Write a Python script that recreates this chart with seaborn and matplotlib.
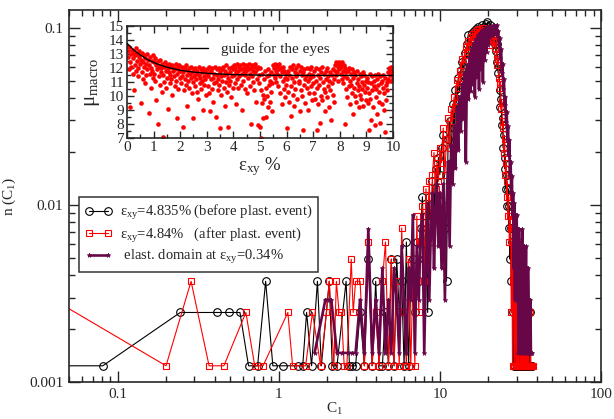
import numpy as np
import matplotlib
matplotlib.use("Agg")
import matplotlib.pyplot as plt
import seaborn as sns
from matplotlib.ticker import LogLocator, NullFormatter, MultipleLocator

# ---------------- main panel: n(C1) ----------------
N_BLACK = 810
N_RED = 810
N_PURPLE = 685

# sparse part (C1 < 3), per series
black_low_c = [0.03, 0.081, 0.245, 0.414, 0.49, 0.575, 0.65, 0.74, 0.83, 0.92, 1.07, 1.31,
               1.41, 1.49, 1.6, 1.74, 1.84, 2.06, 2.15, 2.3, 2.62, 2.75, 2.86]
black_low_n = [1, 1, 2, 2, 2, 2, 1, 1, 3, 1, 1, 1, 1, 2, 1, 3, 1, 3, 1, 1, 3, 1, 1]
red_low_c = [0.015, 0.2, 0.286, 0.37, 0.457, 0.626, 0.71, 0.8, 1.14, 1.22, 1.47, 1.62,
             1.82, 1.98, 2.06, 2.2, 2.28, 2.37, 2.45, 2.55, 2.65, 2.82, 2.9]
red_low_n = [4, 1, 3, 1, 1, 2, 1, 1, 2, 1, 1, 2, 1, 2, 3, 1, 3, 2, 2, 1, 1, 4, 2]
purple_low_c = [1.67, 1.95, 2.05, 2.12, 2.3, 2.48, 2.7, 2.85]
purple_low_n = [1, 2, 2, 2, 1, 1, 1, 1]

# dense part, common bins (counts of 0 are not drawn)
c1_bins = [
    3.0, 3.2, 3.4, 3.6, 3.8, 4.0, 4.2, 4.4, 4.6, 4.8, 5.0, 5.2,
    5.4, 5.6, 5.8, 6.0, 6.2, 6.4, 6.6, 6.8, 7.0, 7.2, 7.4, 7.6,
    7.8, 8.0, 8.2, 8.4, 8.6, 8.8, 9.0, 9.2, 9.4, 9.6, 9.8, 10.0,
    10.25, 10.5, 10.75, 11.0, 11.25, 11.5, 11.75, 12.0,
    12.25, 12.5, 12.75, 13.0, 13.25, 13.5, 13.75, 14.0,
    14.25, 14.5, 14.75, 15.0, 15.25, 15.5, 15.75, 16.0,
    16.25, 16.5, 16.75, 17.0, 17.25, 17.5, 17.75, 18.0,
    18.25, 18.5, 18.75, 19.0, 19.25, 19.5, 19.75, 20.0,
    20.25, 20.5, 20.75, 21.0, 21.25, 21.5, 21.75, 22.0,
    22.25, 22.5, 22.75, 23.0, 23.25, 23.5, 23.75, 24.0,
    24.25, 24.5, 24.75, 25.0, 25.25, 25.5, 25.75, 26.0,
    26.25, 26.5, 26.75, 27.0, 27.25, 27.5, 27.75, 28.0,
    28.25, 28.5, 28.75, 29.0, 29.25, 29.5, 29.75, 30.0,
    30.25, 30.5, 30.75, 31.0, 31.25, 31.5, 31.75, 32.0,
    32.25, 32.5, 32.75, 33.0, 33.25, 33.5, 33.75, 34.0,
    34.25, 34.5, 34.75, 35.0, 35.25, 35.5, 35.75, 36.0,
    36.25, 36.5, 36.75, 37.0, 37.25, 37.5, 37.75, 38.0,
]
black_counts = [
    1, 2, 1, 4, 1, 3, 1, 1, 2, 1, 4, 1,
    4, 2, 3, 1, 5, 1, 3, 4, 2, 5, 3, 6,
    9, 4, 7, 2, 9, 6, 11, 7, 13, 9, 15, 12,
    17, 20, 6, 3, 19, 24, 14, 30,
    22, 36, 31, 42, 35, 47, 52, 44,
    58, 53, 66, 74, 61, 70, 76, 69,
    78, 72, 80, 74, 82, 76, 70, 80,
    84, 75, 82, 78, 85, 80, 87, 82,
    77, 84, 79, 73, 78, 71, 75, 66,
    60, 66, 52, 45, 49, 36, 29, 32,
    23, 25, 17, 20, 13, 15, 10, 12,
    8, 10, 6, 8, 4, 6, 3, 5,
    2, 6, 1, 4, 1, 3, 5, 1,
    4, 2, 1, 3, 1, 4, 1, 2,
    1, 3, 1, 2, 1, 2, 1, 1,
    2, 1, 2, 1, 1, 2, 1, 1,
    2, 1, 1, 1, 0, 1, 0, 0,
]
red_counts = [
    3, 3, 1, 5, 1, 2, 1, 3, 5, 1, 4, 1,
    3, 1, 6, 2, 1, 4, 1, 3, 1, 7, 2, 5,
    8, 3, 10, 6, 11, 5, 12, 16, 10, 14, 11, 17,
    14, 22, 12, 19, 25, 17, 28, 24,
    33, 29, 41, 37, 46, 42, 54, 50,
    57, 63, 59, 68, 64, 72, 67, 75,
    70, 77, 73, 79, 74, 80, 76, 71,
    78, 81, 74, 79, 72, 77, 69, 80,
    65, 78, 71, 81, 74, 68, 73, 62,
    67, 57, 50, 54, 42, 37, 40, 28,
    31, 22, 24, 16, 19, 12, 14, 9,
    11, 7, 9, 5, 7, 6, 2, 5,
    1, 3, 6, 1, 2, 4, 1, 3,
    1, 5, 1, 2, 3, 1, 2, 1,
    4, 1, 2, 1, 1, 3, 1, 2,
    1, 1, 2, 1, 2, 1, 1, 1,
    1, 2, 1, 0, 1, 1, 1, 0,
]
purple_counts = [
    1, 2, 1, 5, 1, 2, 1, 3, 1, 2, 1, 3,
    2, 1, 4, 2, 1, 3, 2, 6, 1, 4, 2, 5,
    6, 1, 3, 7, 2, 5, 8, 3, 6, 9, 4, 8,
    3, 9, 2, 7, 12, 4, 15, 9,
    19, 11, 24, 14, 28, 18, 33, 21,
    38, 12, 42, 27, 47, 30, 52, 33,
    56, 28, 59, 36, 62, 31, 64, 40,
    66, 34, 67, 45, 68, 50, 69, 55,
    70, 61, 69, 62, 70, 64, 71, 63,
    70, 71, 62, 66, 55, 60, 46, 52,
    38, 43, 31, 35, 25, 28, 20, 23,
    16, 19, 13, 16, 10, 12, 8, 10,
    6, 8, 3, 7, 2, 6, 4, 6,
    2, 5, 1, 5, 3, 4, 1, 4,
    2, 5, 1, 3, 4, 1, 3, 2,
    4, 1, 3, 1, 3, 2, 1, 2,
    1, 2, 1, 1, 1, 0, 0, 0,
]

# ---------------- inset: mu_macro vs strain ----------------
eps_inset = [
    0.01, 0.03, 0.05, 0.07, 0.09, 0.11, 0.13, 0.15, 0.17, 0.19, 0.21, 0.23, 0.25, 0.27, 0.29, 0.31, 0.33, 0.35, 0.37, 0.39, 0.41, 0.43, 0.45, 0.47, 0.49,
    0.51, 0.53, 0.55, 0.57, 0.59, 0.61, 0.63, 0.65, 0.67, 0.69, 0.71, 0.73, 0.75, 0.77, 0.79, 0.81, 0.83, 0.85, 0.87, 0.89, 0.91, 0.93, 0.95, 0.97, 0.99,
    1.01, 1.03, 1.05, 1.07, 1.09, 1.11, 1.13, 1.15, 1.17, 1.19, 1.21, 1.23, 1.25, 1.27, 1.29, 1.31, 1.33, 1.35, 1.37, 1.39, 1.41, 1.43, 1.45, 1.47, 1.49,
    1.51, 1.53, 1.55, 1.57, 1.59, 1.61, 1.63, 1.65, 1.67, 1.69, 1.71, 1.73, 1.75, 1.77, 1.79, 1.81, 1.83, 1.85, 1.87, 1.89, 1.91, 1.93, 1.95, 1.97, 1.99,
    2.01, 2.03, 2.05, 2.07, 2.09, 2.11, 2.13, 2.15, 2.17, 2.19, 2.21, 2.23, 2.25, 2.27, 2.29, 2.31, 2.33, 2.35, 2.37, 2.39, 2.41, 2.43, 2.45, 2.47, 2.49,
    2.51, 2.53, 2.55, 2.57, 2.59, 2.61, 2.63, 2.65, 2.67, 2.69, 2.71, 2.73, 2.75, 2.77, 2.79, 2.81, 2.83, 2.85, 2.87, 2.89, 2.91, 2.93, 2.95, 2.97, 2.99,
    3.01, 3.03, 3.05, 3.07, 3.09, 3.11, 3.13, 3.15, 3.17, 3.19, 3.21, 3.23, 3.25, 3.27, 3.29, 3.31, 3.33, 3.35, 3.37, 3.39, 3.41, 3.43, 3.45, 3.47, 3.49,
    3.51, 3.53, 3.55, 3.57, 3.59, 3.61, 3.63, 3.65, 3.67, 3.69, 3.71, 3.73, 3.75, 3.77, 3.79, 3.81, 3.83, 3.85, 3.87, 3.89, 3.91, 3.93, 3.95, 3.97, 3.99,
    4.01, 4.03, 4.05, 4.07, 4.09, 4.11, 4.13, 4.15, 4.17, 4.19, 4.21, 4.23, 4.25, 4.27, 4.29, 4.31, 4.33, 4.35, 4.37, 4.39, 4.41, 4.43, 4.45, 4.47, 4.49,
    4.51, 4.53, 4.55, 4.57, 4.59, 4.61, 4.63, 4.65, 4.67, 4.69, 4.71, 4.73, 4.75, 4.77, 4.79, 4.81, 4.83, 4.85, 4.87, 4.89, 4.91, 4.93, 4.95, 4.97, 4.99,
    5.01, 5.03, 5.05, 5.07, 5.09, 5.11, 5.13, 5.15, 5.17, 5.19, 5.21, 5.23, 5.25, 5.27, 5.29, 5.31, 5.33, 5.35, 5.37, 5.39, 5.41, 5.43, 5.45, 5.47, 5.49,
    5.51, 5.53, 5.55, 5.57, 5.59, 5.61, 5.63, 5.65, 5.67, 5.69, 5.71, 5.73, 5.75, 5.77, 5.79, 5.81, 5.83, 5.85, 5.87, 5.89, 5.91, 5.93, 5.95, 5.97, 5.99,
    6.01, 6.03, 6.05, 6.07, 6.09, 6.11, 6.13, 6.15, 6.17, 6.19, 6.21, 6.23, 6.25, 6.27, 6.29, 6.31, 6.33, 6.35, 6.37, 6.39, 6.41, 6.43, 6.45, 6.47, 6.49,
    6.51, 6.53, 6.55, 6.57, 6.59, 6.61, 6.63, 6.65, 6.67, 6.69, 6.71, 6.73, 6.75, 6.77, 6.79, 6.81, 6.83, 6.85, 6.87, 6.89, 6.91, 6.93, 6.95, 6.97, 6.99,
    7.01, 7.03, 7.05, 7.07, 7.09, 7.11, 7.13, 7.15, 7.17, 7.19, 7.21, 7.23, 7.25, 7.27, 7.29, 7.31, 7.33, 7.35, 7.37, 7.39, 7.41, 7.43, 7.45, 7.47, 7.49,
    7.51, 7.53, 7.55, 7.57, 7.59, 7.61, 7.63, 7.65, 7.67, 7.69, 7.71, 7.73, 7.75, 7.77, 7.79, 7.81, 7.83, 7.85, 7.87, 7.89, 7.91, 7.93, 7.95, 7.97, 7.99,
    8.01, 8.03, 8.05, 8.07, 8.09, 8.11, 8.13, 8.15, 8.17, 8.19, 8.21, 8.23, 8.25, 8.27, 8.29, 8.31, 8.33, 8.35, 8.37, 8.39, 8.41, 8.43, 8.45, 8.47, 8.49,
    8.51, 8.53, 8.55, 8.57, 8.59, 8.61, 8.63, 8.65, 8.67, 8.69, 8.71, 8.73, 8.75, 8.77, 8.79, 8.81, 8.83, 8.85, 8.87, 8.89, 8.91, 8.93, 8.95, 8.97, 8.99,
    9.01, 9.03, 9.05, 9.07, 9.09, 9.11, 9.13, 9.15, 9.17, 9.19, 9.21, 9.23, 9.25, 9.27, 9.29, 9.31, 9.33, 9.35, 9.37, 9.39, 9.41, 9.43, 9.45, 9.47, 9.49,
    9.51, 9.53, 9.55, 9.57, 9.59, 9.61, 9.63, 9.65, 9.67, 9.69, 9.71, 9.73, 9.75, 9.77, 9.79, 9.81, 9.83, 9.85, 9.87, 9.89, 9.91, 9.93, 9.95, 9.97, 9.99,
]
mu_inset = [
    13.6, 12.8, 13.2, 11.9, 13.5, 12.4, 9.2, 13.0, 12.1, 13.3, 11.6, 12.7, 13.1, 10.4, 12.9, 12.2, 13.4, 11.8, 12.5, 13.0, 12.0, 11.4, 12.8, 13.2, 12.3,
    9.5, 12.6, 11.7, 13.1, 12.4, 11.2, 12.9, 12.1, 10.9, 12.7, 12.3, 11.5, 13.0, 11.9, 12.6, 8.8, 12.2, 11.6, 12.8, 12.0, 10.6, 12.5, 11.8, 12.9, 11.3,
    12.4, 11.6, 12.7, 11.1, 12.2, 9.7, 11.9, 12.5, 8.0, 11.4, 12.1, 10.8, 12.6, 11.7, 12.0, 10.3, 12.3, 11.5, 7.1, 12.1, 11.0, 12.4, 11.8, 10.6, 12.2,
    11.3, 9.1, 12.0, 11.7, 12.3, 10.9, 11.5, 12.1, 11.2, 10.1, 12.2, 11.8, 11.4, 12.0, 10.7, 11.9, 12.3, 11.1, 8.4, 11.6, 12.1, 10.5, 11.8, 12.2, 11.3,
    11.8, 10.9, 12.1, 11.4, 7.8, 11.7, 12.0, 10.4, 11.2, 11.9, 10.8, 12.2, 11.5, 9.3, 11.8, 11.1, 12.0, 10.6, 11.6, 11.3, 12.1, 10.2, 11.7, 11.0, 8.4,
    11.9, 11.4, 10.7, 12.0, 11.2, 11.6, 10.3, 11.8, 9.8, 11.5, 12.1, 10.9, 11.3, 11.9, 10.5, 11.7, 11.1, 12.0, 9.0, 11.4, 10.8, 11.8, 11.2, 10.1, 11.6,
    11.9, 10.7, 11.4, 12.1, 10.2, 11.7, 8.9, 11.2, 11.8, 10.5, 12.0, 11.3, 9.6, 11.6, 10.9, 12.1, 11.0, 8.5, 11.5, 11.9, 10.4, 11.2, 12.0, 10.8, 11.7,
    7.7, 11.4, 10.1, 11.9, 11.1, 12.1, 10.6, 11.5, 9.3, 11.8, 11.0, 12.2, 10.3, 11.6, 7.8, 11.3, 12.0, 10.8, 11.7, 11.1, 9.9, 12.1, 11.4, 10.6, 11.9,
    12.2, 11.5, 10.9, 12.0, 11.7, 9.4, 12.3, 11.2, 11.8, 10.6, 12.1, 11.4, 12.2, 10.8, 11.9, 11.6, 9.0, 12.3, 11.1, 11.7, 12.0, 10.5, 11.5, 12.2, 11.8,
    10.2, 12.1, 11.3, 11.9, 12.3, 10.7, 11.6, 12.0, 8.0, 11.4, 12.2, 11.0, 11.8, 12.1, 10.4, 11.7, 12.3, 9.6, 11.2, 11.9, 7.9, 12.1, 11.5, 10.9, 12.0,
    7.8, 10.4, 7.0, 9.5, 11.6, 10.1, 8.4, 11.2, 9.8, 11.8, 10.6, 8.5, 11.4, 10.0, 11.9, 9.2, 10.8, 11.5, 9.6, 11.1, 10.3, 11.7, 8.9, 10.9, 12.2,
    11.5, 12.0, 11.3, 12.3, 11.8, 11.0, 12.1, 11.6, 12.2, 10.7, 11.9, 12.3, 11.4, 10.2, 12.0, 11.7, 9.4, 11.1, 12.1, 10.5, 11.8, 9.9, 11.3, 10.8, 11.6,
    7.7, 11.2, 10.3, 11.8, 9.6, 11.5, 12.1, 10.7, 8.6, 11.3, 11.9, 10.1, 12.2, 11.0, 9.3, 11.7, 10.5, 12.0, 11.4, 9.8, 11.6, 12.2, 10.9, 11.1, 8.9,
    11.8, 10.4, 12.1, 11.5, 10.0, 11.7, 7.6, 10.8, 11.9, 11.2, 9.5, 11.4, 12.0, 10.6, 11.1, 9.0, 11.6, 10.2, 11.9, 11.3, 10.7, 12.1, 9.7, 11.5, 10.9,
    11.4, 10.2, 11.8, 9.8, 11.1, 12.0, 7.6, 10.6, 11.5, 9.4, 11.9, 10.8, 8.1, 11.3, 10.0, 11.7, 12.1, 9.7, 11.0, 10.5, 11.6, 8.9, 10.3, 11.8, 11.2,
    9.9, 12.0, 10.7, 11.4, 9.2, 11.1, 10.4, 11.7, 8.3, 10.9, 11.5, 10.1, 11.9, 9.6, 11.2, 11.8, 12.2, 11.5, 12.4, 11.7, 12.3, 11.1, 12.1, 11.9, 12.4,
    12.3, 11.6, 12.1, 11.2, 12.4, 11.8, 10.9, 12.2, 11.4, 12.0, 8.0, 11.7, 10.5, 11.3, 9.9, 11.8, 10.7, 12.0, 11.1, 9.4, 10.8, 11.6, 10.2, 11.9, 8.7,
    11.3, 10.6, 11.7, 10.0, 11.5, 9.6, 10.9, 11.8, 10.4, 11.2, 9.2, 10.7, 11.6, 10.1, 11.4, 9.8, 11.0, 10.5, 11.7, 9.3, 10.8, 11.5, 10.3, 11.1, 9.7,
    10.6, 11.3, 9.5, 11.0, 7.6, 10.2, 11.6, 9.8, 10.9, 8.3, 11.4, 10.4, 9.2, 11.1, 10.7, 7.9, 11.5, 9.9, 10.5, 11.2, 8.7, 10.8, 11.6, 9.6, 10.3,
    11.4, 8.1, 10.9, 11.1, 9.4, 10.6, 11.5, 9.0, 10.2, 11.3, 7.4, 10.8, 9.7, 11.0, 10.4, 11.7, 11.2, 12.0, 11.5, 11.9, 11.1, 12.1, 11.6, 11.8, 11.3,
]
guide_eps = [0.0, 0.25, 0.5, 0.75, 1.0, 1.25, 1.5, 2.0, 2.5, 3.0, 3.5, 4.0, 5.0, 6.0, 7.0, 8.0, 9.0, 10.0]
guide_mu = [13.77, 13.30, 12.93, 12.63, 12.40, 12.21, 12.06, 11.84, 11.71, 11.62, 11.57, 11.53,
            11.49, 11.48, 11.47, 11.47, 11.47, 11.47]

PURPLE = "#670748"


def series(low_c, low_n, counts, total):
    c = np.array(low_c + c1_bins, dtype=float)
    n = np.array(low_n + counts, dtype=float)
    keep = n > 0
    return c[keep], n[keep] / total


sns.set_style("ticks")
plt.rcParams["font.family"] = ["Liberation Serif", "DejaVu Serif"]
plt.rcParams["mathtext.default"] = "regular"
plt.rcParams["axes.linewidth"] = 1.2

fig = plt.figure(figsize=(6.14, 4.19), dpi=100)
ax = fig.add_axes([0.1124, 0.0883, 0.8664, 0.8878])

xb, yb = series(black_low_c, black_low_n, black_counts, N_BLACK)
xr, yr = series(red_low_c, red_low_n, red_counts, N_RED)
xp, yp = series(purple_low_c, purple_low_n, purple_counts, N_PURPLE)

sns.lineplot(x=xb, y=yb, ax=ax, sort=False, estimator=None, color="black", lw=0.8,
             marker="o", markersize=5.5, markerfacecolor="none", markeredgecolor="black",
             markeredgewidth=0.8, label=r"ε$_{xy}$=4.835% (before plast. event)")
sns.lineplot(x=xr, y=yr, ax=ax, sort=False, estimator=None, color="red", lw=0.8,
             marker="s", markersize=4.5, markerfacecolor="none", markeredgecolor="red",
             markeredgewidth=0.8, label=r"ε$_{xy}$=4.84%   (after plast. event)")
sns.lineplot(x=xp, y=yp, ax=ax, sort=False, estimator=None, color=PURPLE, lw=1.9,
             marker="*", markersize=3.5, markerfacecolor=PURPLE, markeredgecolor=PURPLE,
             markeredgewidth=0.4, label=r" elast. domain at ε$_{xy}$=0.34%")

ax.set_xscale("log")
ax.set_yscale("log")
ax.set_xlim(0.05, 100)
ax.set_ylim(0.001, 0.126)
ax.set_xticks([0.1, 1, 10, 100])
ax.set_xticklabels(["0.1", "1", "10", "100"])
ax.set_yticks([0.001, 0.01, 0.1])
ax.set_yticklabels(["0.001", "0.01", "0.1"])
for axis in (ax.xaxis, ax.yaxis):
    axis.set_minor_locator(LogLocator(base=10, subs=np.arange(2, 10), numticks=20))
    axis.set_minor_formatter(NullFormatter())
ax.tick_params(which="both", direction="in", top=True, right=True, labelsize=11, width=1.0)
ax.tick_params(which="major", length=8, pad=4)
ax.tick_params(which="minor", length=4.5)
ax.set_xlabel(r"C$_1$", fontsize=11, labelpad=0)
ax.set_ylabel(r"n (C$_1$)", fontsize=11, labelpad=8)

leg = ax.legend(loc="upper left", bbox_to_anchor=(0.0188, 0.497), borderaxespad=0,
                frameon=True, fancybox=False, edgecolor="#333333", framealpha=1,
                fontsize=10.5, numpoints=2, handlelength=1.9, handletextpad=0.5,
                borderpad=0.4, labelspacing=0.25)
leg.get_frame().set_linewidth(1.1)

# inset
axin = fig.add_axes([0.2068, 0.6706, 0.4332, 0.2673])
sns.scatterplot(x=eps_inset, y=mu_inset, ax=axin, color="red", s=11, linewidth=0, zorder=2)
sns.lineplot(x=guide_eps, y=guide_mu, ax=axin, color="black", lw=1.0, zorder=3,
             label="guide for the eyes")
axin.set_xlim(0, 10)
axin.set_ylim(7, 15)
axin.xaxis.set_major_locator(MultipleLocator(1))
axin.xaxis.set_minor_locator(MultipleLocator(0.5))
axin.yaxis.set_major_locator(MultipleLocator(1))
axin.yaxis.set_minor_locator(MultipleLocator(0.5))
axin.tick_params(which="both", direction="in", top=True, right=True, labelsize=11, width=1.0, pad=2)
axin.tick_params(which="major", length=5)
axin.tick_params(which="minor", length=3)
axin.set_xlabel(r"ε$_{xy}$ %", fontsize=13.5, labelpad=1)
axin.set_ylabel(r"μ$_{macro}$", fontsize=15, labelpad=5)
axin.legend(loc="center left", bbox_to_anchor=(0.18, 0.795), frameon=False, fontsize=11,
            handlelength=1.8, handletextpad=0.8, borderaxespad=0)

fig.savefig("out.png", dpi=100)
